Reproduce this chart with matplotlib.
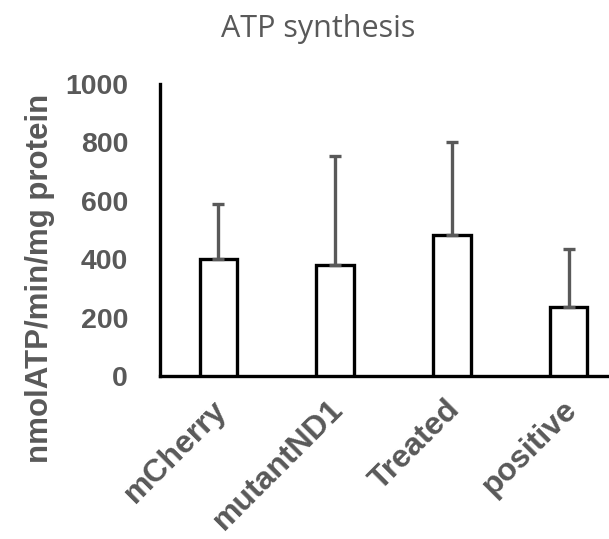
import matplotlib.pyplot as plt
import matplotlib.transforms as mtransforms
import numpy as np

categories = ['mCherry', 'mutantND1', 'Treated', 'positive']
means = [402, 381, 482, 236]
errors = [188, 372, 318, 199]
yticks = [0, 200, 400, 600, 800, 1000]

grey = '#595959'

fig = plt.figure(figsize=(6.09, 5.39), dpi=100)
ax = fig.add_axes([160 / 609, 163 / 539, 467 / 609, 292 / 539])

x = np.arange(len(categories))
ax.bar(x, means, width=0.32, color='white', edgecolor='black', linewidth=2.4,
       yerr=[np.zeros(len(errors)), errors],
       error_kw=dict(ecolor=grey, elinewidth=2.4, capsize=4.5, capthick=2.4),
       zorder=3)

ax.set_xlim(-0.5, 3.5)
ax.set_ylim(0, 1000)
ax.set_yticks(yticks)
ax.set_xticks(x)
ax.set_xticklabels(categories, rotation=45, ha='right', va='center',
                   rotation_mode='anchor')
ax.tick_params(length=0, colors=grey)
ax.tick_params(axis='y', pad=23, labelsize=20.5)
ax.tick_params(axis='x', pad=21, labelsize=23)
shift = mtransforms.ScaledTranslation(4 / 100, 0, fig.dpi_scale_trans)
for lab in ax.get_xticklabels():
    lab.set_transform(lab.get_transform() + shift)
for lab in ax.get_xticklabels() + ax.get_yticklabels():
    lab.set_fontweight('bold')
    lab.set_family('Liberation Sans')

for s in ['top', 'right']:
    ax.spines[s].set_visible(False)
for s in ['left', 'bottom']:
    ax.spines[s].set_linewidth(2.4)
    ax.spines[s].set_color('black')

ax.set_ylabel('nmolATP/min/mg protein', fontsize=22.5, fontweight='bold',
              color=grey, family='Liberation Sans')
ax.yaxis.set_label_coords(-105 / 467, 0.335)

fig.text(318 / 609, 1 - 37 / 539, 'ATP synthesis', ha='center', va='baseline',
         fontsize=22, color=grey, family='Open Sans')

fig.savefig('out.png', dpi=100)
